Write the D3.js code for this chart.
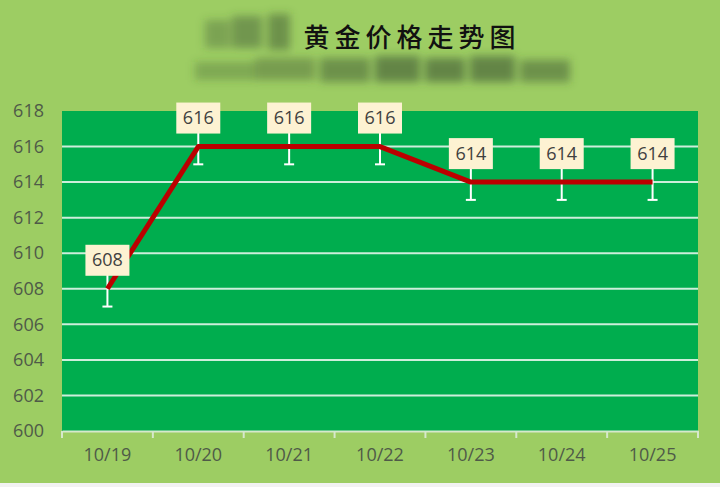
<!DOCTYPE html>
<html><head><meta charset="utf-8">
<script src="https://cdn.jsdelivr.net/npm/d3@7/dist/d3.min.js"></script>
<style>html,body{margin:0;padding:0;background:#9dcd63;}svg{display:block;}</style>
</head><body>
<script>
const categories = ["10/19","10/20","10/21","10/22","10/23","10/24","10/25"];
const prices = [608,616,616,616,614,614,614];
const errorAmount = [1,1,1,1,1,1,1];
const yTicks = [600,602,604,606,608,610,612,614,616,618];
const title = "黄金价格走势图";

const W = 720, H = 487;
const m = {left:62, right:22, top:111, bottom:56};
const svg = d3.select("body").append("svg").attr("width",W).attr("height",H);

const defs = svg.append("defs");
defs.append("filter").attr("id","blur").attr("x","-50%").attr("y","-50%").attr("width","200%").attr("height","200%")
  .append("feGaussianBlur").attr("stdDeviation",4);

svg.append("rect").attr("width",W).attr("height",H).attr("fill","#9dcd63");
svg.append("rect").attr("x",0).attr("y",483).attr("width",W).attr("height",4).attr("fill","#f2f2f2");

// blurred watermark smudges
const smudge = svg.append("g").attr("filter","url(#blur)").attr("fill","#3b5530");
[[205,20,25,28,0.35],[232,16,30,32,0.45],[268,14,22,36,0.5],[195,62,60,18,0.3],[255,58,60,22,0.4],
 [320,58,50,24,0.5],[375,56,45,26,0.6],[425,58,40,24,0.6],[470,56,45,26,0.6],[520,60,50,22,0.5]]
 .forEach(s=>smudge.append("rect").attr("x",s[0]).attr("y",s[1]).attr("width",s[2]).attr("height",s[3]).attr("opacity",s[4]));

const x = d3.scaleBand().domain(categories).range([m.left, W-m.right]);
const y = d3.scaleLinear().domain([600,618]).range([H-m.bottom, m.top]);

svg.append("rect").attr("x",m.left).attr("y",m.top).attr("width",W-m.right-m.left).attr("height",H-m.bottom-m.top).attr("fill","#00ad4e");

// gridlines
svg.append("g").selectAll("line").data(yTicks.filter(t=>t>600 && t<618)).join("line")
  .attr("x1",m.left).attr("x2",W-m.right).attr("y1",d=>y(d)).attr("y2",d=>y(d))
  .attr("stroke","#cdeedb").attr("stroke-width",2);

const fontFam = "Open Sans, Liberation Sans, sans-serif";
// y axis labels
const yAxis = d3.axisLeft(y).tickValues(yTicks).tickSize(0).tickPadding(18);
const gy = svg.append("g").attr("transform",`translate(${m.left},0)`).call(yAxis);
gy.select(".domain").remove();
gy.selectAll("text").attr("fill","#4f5a48").style("font-family",fontFam).style("font-size","18px");

// x axis
const xAxis = d3.axisBottom(x).tickSize(0).tickPadding(17);
const gx = svg.append("g").attr("transform",`translate(0,${y(600)})`).call(xAxis);
gx.select(".domain").attr("stroke","#d6e8cc").attr("stroke-width",2);
gx.selectAll("text").attr("fill","#4f5a48").style("font-family",fontFam).style("font-size","18px");
const bounds = categories.map(c=>x(c)).concat([x(categories[categories.length-1])+x.bandwidth()]);
svg.append("g").selectAll("line").data(bounds).join("line")
  .attr("x1",d=>d).attr("x2",d=>d).attr("y1",y(600)).attr("y2",y(600)+7)
  .attr("stroke","#d6e8cc").attr("stroke-width",2);

const cx = d => x(d) + x.bandwidth()/2;
const data = categories.map((c,i)=>({c, v:prices[i], e:errorAmount[i]}));

// error bars
const eb = svg.append("g").attr("stroke","#ffffff").attr("stroke-width",2);
data.forEach(d=>{
  eb.append("line").attr("x1",cx(d.c)).attr("x2",cx(d.c)).attr("y1",y(d.v-d.e)).attr("y2",y(d.v+d.e));
  eb.append("line").attr("x1",cx(d.c)-5).attr("x2",cx(d.c)+5).attr("y1",y(d.v-d.e)).attr("y2",y(d.v-d.e));
  eb.append("line").attr("x1",cx(d.c)-5).attr("x2",cx(d.c)+5).attr("y1",y(d.v+d.e)).attr("y2",y(d.v+d.e));
});

// line
svg.append("path").datum(data)
  .attr("d", d3.line().x(d=>cx(d.c)).y(d=>y(d.v)))
  .attr("fill","none").attr("stroke","#bb0000").attr("stroke-width",5).attr("stroke-linejoin","round");

// labels
const lab = svg.append("g").selectAll("g").data(data).join("g")
  .attr("transform",d=>`translate(${cx(d.c)},${y(d.v)-29})`);
lab.append("rect").attr("x",-22).attr("y",-15).attr("width",44).attr("height",31).attr("fill","#fdf2d2");
lab.append("text").attr("text-anchor","middle").attr("dy","0.36em")
  .attr("fill","#404040").style("font-family",fontFam).style("font-size","18px")
  .text(d=>d.v);

// title
svg.append("text").attr("x",412).attr("y",47).attr("text-anchor","middle")
  .style("font-family","Noto Sans CJK SC").style("font-size","26px").style("font-weight","500")
  .style("letter-spacing","5px").attr("fill","#111").text(title);
</script>
</body></html>
